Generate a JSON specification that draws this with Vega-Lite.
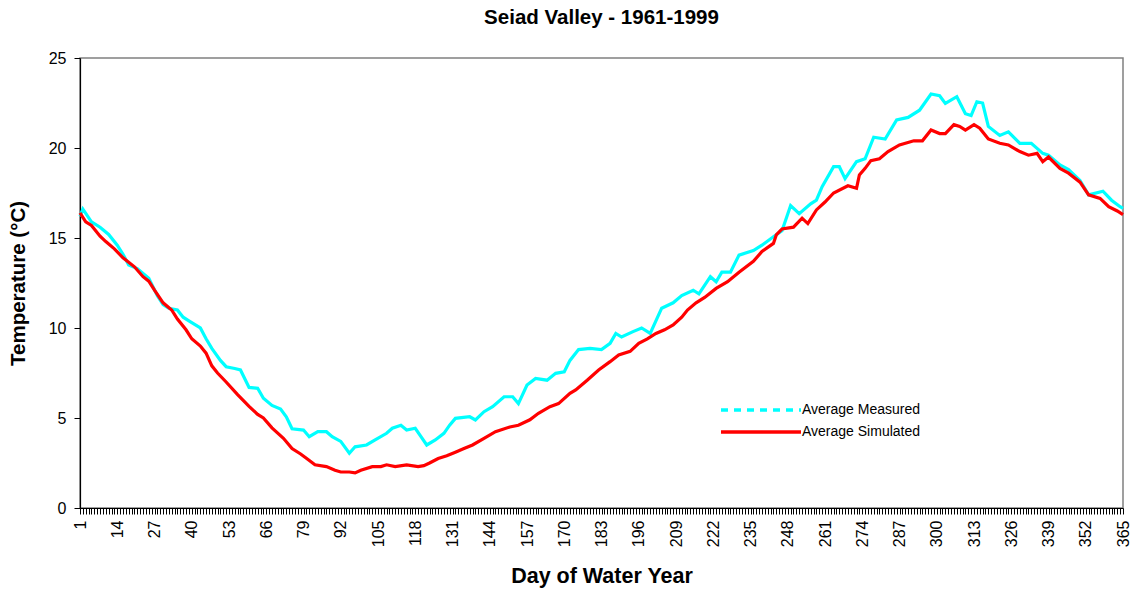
{
  "$schema": "https://vega.github.io/schema/vega-lite/v6.json",
  "width": 1043,
  "height": 450,
  "autosize": "none",
  "padding": {"left": 80, "top": 58, "right": 7, "bottom": 84},
  "background": "white",
  "config": {
    "font": "Liberation Sans",
    "view": {"stroke": "#808080", "strokeWidth": 1.5},
    "axis": {"grid": false, "domainColor": "#000000", "tickColor": "#000000", "labelColor": "#000000", "titleColor": "#000000", "labelFont": "Liberation Sans", "titleFont": "Liberation Sans", "labelFontSize": 16, "titleFontSize": 20.5, "titleFontWeight": "bold", "tickSize": 6, "domainWidth": 1.2}
  },
  "title": {"text": "Seiad Valley - 1961-1999", "font": "Liberation Sans", "fontSize": 20.5, "fontWeight": "bold", "color": "#000000", "anchor": "middle", "offset": 22},
  "datasets": {
    "sim": [
      [1,16.4],[3,15.9],[5,15.7],[8,15.1],[10,14.8],[13,14.4],[16,13.9],[20,13.4],[23,12.85],[25,12.6],[27,12.1],[30,11.4],[33,11.0],[35,10.5],[38,9.9],[40,9.4],[43,9.0],[45,8.6],[47,7.9],[49,7.5],[52,7.0],[56,6.3],[60,5.65],[63,5.2],[65,5.0],[68,4.45],[72,3.87],[75,3.3],[78,3.0],[80,2.76],[83,2.4],[87,2.3],[90,2.1],[92,2.0],[95,2.0],[97,1.95],[99,2.1],[103,2.3],[106,2.3],[108,2.4],[111,2.3],[115,2.4],[119,2.3],[121,2.35],[123,2.5],[126,2.75],[129,2.9],[132,3.1],[135,3.3],[138,3.5],[142,3.87],[146,4.24],[151,4.5],[154,4.6],[158,4.9],[161,5.26],[165,5.63],[168,5.8],[172,6.37],[174,6.56],[178,7.1],[182,7.67],[186,8.13],[189,8.5],[193,8.7],[196,9.15],[199,9.4],[202,9.7],[205,9.9],[208,10.17],[211,10.6],[213,11.0],[216,11.4],[219,11.7],[223,12.2],[227,12.57],[231,13.1],[236,13.7],[239,14.25],[243,14.7],[244,15.17],[246,15.5],[250,15.6],[253,16.1],[255,15.8],[258,16.56],[261,17.0],[264,17.5],[269,17.9],[272,17.76],[273,18.5],[275,18.87],[277,19.3],[280,19.4],[283,19.8],[287,20.17],[292,20.4],[295,20.4],[298,21.0],[301,20.8],[303,20.8],[306,21.3],[308,21.2],[310,21.0],[313,21.3],[315,21.1],[318,20.5],[322,20.26],[325,20.17],[329,19.8],[332,19.6],[335,19.7],[337,19.24],[339,19.5],[343,18.87],[346,18.6],[350,18.1],[353,17.4],[357,17.2],[360,16.74],[363,16.5],[365,16.3]
    ],
    "meas": [
      [1,16.2],[2,16.6],[5,15.9],[8,15.6],[11,15.2],[14,14.6],[16,14.1],[18,13.5],[21,13.3],[25,12.76],[28,11.8],[30,11.3],[32,11.1],[35,11.0],[37,10.6],[39,10.4],[43,10.0],[45,9.4],[47,8.87],[50,8.2],[52,7.85],[55,7.75],[57,7.67],[60,6.7],[63,6.65],[65,6.1],[68,5.7],[71,5.5],[73,5.07],[75,4.4],[79,4.33],[81,3.96],[84,4.24],[87,4.24],[89,3.96],[92,3.7],[95,3.04],[97,3.4],[101,3.5],[104,3.78],[108,4.15],[110,4.43],[113,4.6],[115,4.33],[118,4.43],[120,3.96],[122,3.5],[125,3.78],[128,4.15],[130,4.6],[132,4.98],[137,5.07],[139,4.89],[142,5.35],[145,5.63],[149,6.18],[152,6.18],[154,5.8],[157,6.83],[160,7.2],[164,7.1],[167,7.48],[170,7.57],[172,8.2],[175,8.8],[179,8.87],[183,8.8],[186,9.15],[188,9.7],[190,9.5],[194,9.8],[197,10.0],[200,9.7],[204,11.1],[208,11.4],[211,11.8],[215,12.1],[217,11.9],[221,12.85],[223,12.57],[225,13.1],[228,13.1],[231,14.05],[236,14.3],[239,14.6],[243,15.07],[246,15.4],[249,16.8],[252,16.35],[256,16.9],[258,17.1],[260,17.85],[264,18.96],[266,18.96],[268,18.3],[272,19.24],[275,19.4],[278,20.6],[282,20.5],[286,21.56],[290,21.7],[294,22.1],[298,23.0],[301,22.9],[303,22.48],[307,22.85],[310,21.9],[312,21.8],[314,22.57],[316,22.5],[318,21.2],[322,20.7],[325,20.9],[329,20.26],[333,20.26],[337,19.7],[339,19.6],[343,19.06],[346,18.8],[350,18.2],[353,17.4],[358,17.6],[361,17.1],[364,16.74],[365,16.65]
    ]
  },
  "layer": [
    {
      "data": {"name": "meas"},
      "transform": [
        {"calculate": "datum[0]", "as": "day"},
        {"calculate": "datum[1]", "as": "temp"},
        {"calculate": "'Average Measured'", "as": "series"}
      ],
      "mark": {"type": "line", "strokeWidth": 3.2, "interpolate": "linear"},
      "encoding": {
        "x": {"field": "day", "type": "quantitative"},
        "y": {"field": "temp", "type": "quantitative"},
        "color": {"field": "series", "type": "nominal"}
      }
    },
    {
      "data": {"name": "sim"},
      "transform": [
        {"calculate": "datum[0]", "as": "day"},
        {"calculate": "datum[1]", "as": "temp"},
        {"calculate": "'Average Simulated'", "as": "series"}
      ],
      "mark": {"type": "line", "strokeWidth": 3.2, "interpolate": "linear"},
      "encoding": {
        "x": {"field": "day", "type": "quantitative", "title": "Day of Water Year",
          "scale": {"domain": [1, 365], "nice": false, "zero": false},
          "axis": {"tickCount": 365, "labelExpr": "(datum.value - 1) % 13 == 0 ? datum.label : ''", "labelAngle": 270, "labelOverlap": false, "labelFlush": false, "labelBound": false, "labelPadding": 6, "titlePadding": 19, "titleFontSize": 21.5, "tickWidth": 1}},
        "y": {"field": "temp", "type": "quantitative", "title": "Temperature (°C)",
          "scale": {"domain": [0, 25], "nice": false},
          "axis": {"values": [0, 5, 10, 15, 20, 25], "titlePadding": 20, "labelPadding": 8}},
        "color": {"field": "series", "type": "nominal",
          "scale": {"domain": ["Average Measured", "Average Simulated"], "range": ["#00FFFF", "#FF0000"]},
          "legend": {"title": null, "orient": "none", "legendX": 674, "legendY": 345, "padding": 0,
            "symbolType": "M-8,0H8", "symbolSize": 100, "symbolStrokeWidth": 3.5,
            "labelFont": "Liberation Sans", "labelFontSize": 14, "labelColor": "#000000", "labelOffset": 34, "rowPadding": 8,
            "encode": {"symbols": {"update": {"strokeDash": {"signal": "datum.value == 'Average Measured' ? [7,6] : [1,0]"}}}}}}
      }
    }
  ]
}
